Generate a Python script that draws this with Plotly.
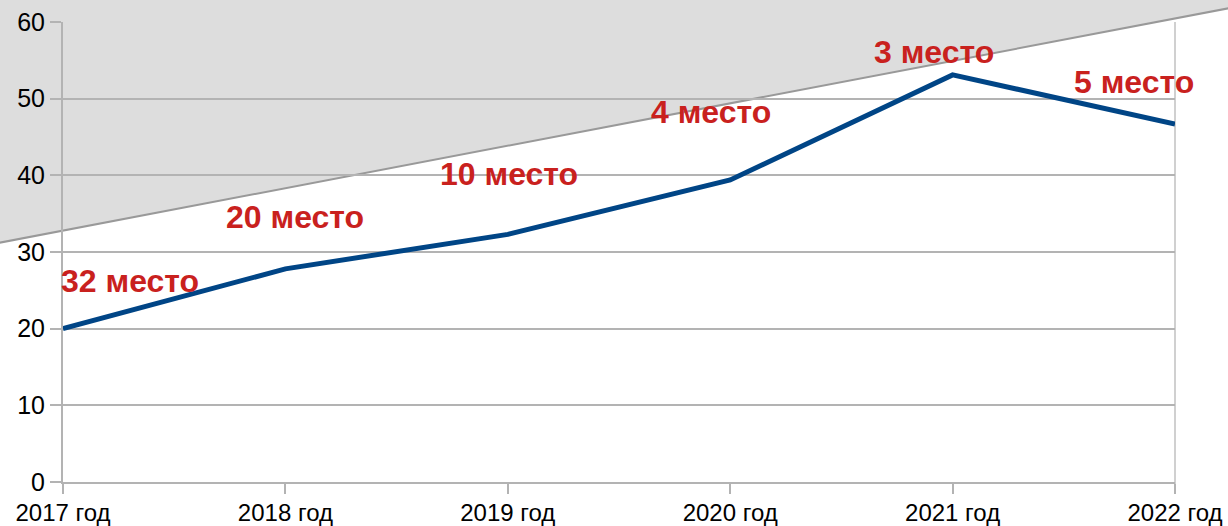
import plotly.graph_objects as go

years = ["2017 год", "2018 год", "2019 год", "2020 год", "2021 год", "2022 год"]
values = [20.0, 27.8, 32.3, 39.4, 53.1, 46.7]
places = ["32 место", "20 место", "10 место", "4 место", "3 место", "5 место"]
y_ticks = [0, 10, 20, 30, 40, 50, 60]

# label offsets (pixels) relative to each point
label_dx = [67, 10, 1, -19, -19, -41]
label_dy = [48, 52, 60, 68, 23, 42]

W, H = 1228, 526
ML, MR, MT, MB = 63, 53, 22, 44
pw, ph = W - ML - MR, H - MT - MB

def px_to_paper(px, py):
    return (px - ML) / pw, (H - MB - py) / ph

fig = go.Figure()

# gray shaded wedge (paper coords)
x0, y0 = px_to_paper(-2, 243)
x1, y1 = px_to_paper(W + 2, 8)
_, ytop = px_to_paper(0, -2)
fig.add_shape(type="path", xref="paper", yref="paper", layer="below",
              path=f"M {x0} {ytop} L {x1} {ytop} L {x1} {y1} L {x0} {y0} Z",
              fillcolor="#dddddd", line=dict(width=0))
fig.add_shape(type="line", xref="paper", yref="paper", layer="below",
              x0=x0, y0=y0, x1=x1, y1=y1, line=dict(color="#999999", width=2))
# right border
fig.add_shape(type="line", xref="paper", yref="paper", layer="below",
              x0=1, y0=1, x1=1, y1=-10 / ph, line=dict(color="#d0d0d0", width=2))

fig.add_trace(go.Scatter(x=years, y=values, mode="lines",
                         line=dict(color="#004586", width=5), showlegend=False,
                         cliponaxis=False))

for yr, v, t, dx, dy in zip(years, values, places, label_dx, label_dy):
    fig.add_annotation(x=yr, y=v, text=f"<b>{t}</b>", showarrow=False,
                       xshift=dx, yshift=dy,
                       font=dict(family="Liberation Sans", size=32, color="#c9211e"))

fig.update_layout(
    width=W, height=H,
    margin=dict(l=ML, r=MR, t=MT, b=MB, autoexpand=False),
    paper_bgcolor="rgba(0,0,0,0)", plot_bgcolor="rgba(0,0,0,0)",
    font=dict(family="Liberation Sans", size=25, color="#000000"),
)
fig.update_xaxes(type="category", range=[0, 5], showgrid=False, automargin=False,
                 showline=True, linecolor="#b3b3b3", linewidth=2,
                 ticks="outside", ticklen=10, tickcolor="#b3b3b3", tickwidth=2,
                 tickfont=dict(size=24), ticklabelstandoff=-2, zeroline=False)
fig.update_yaxes(range=[0, 60], tickvals=y_ticks, showgrid=True, automargin=False,
                 gridcolor="#b3b3b3", gridwidth=2,
                 showline=True, linecolor="#b3b3b3", linewidth=2,
                 ticks="outside", ticklen=11, tickcolor="#b3b3b3", tickwidth=2,
                 tickfont=dict(size=25), zeroline=False)

fig.write_html("out.html", config={"displayModeBar": False},
               post_script="document.body.style.margin='0';document.body.style.overflow='hidden';")
